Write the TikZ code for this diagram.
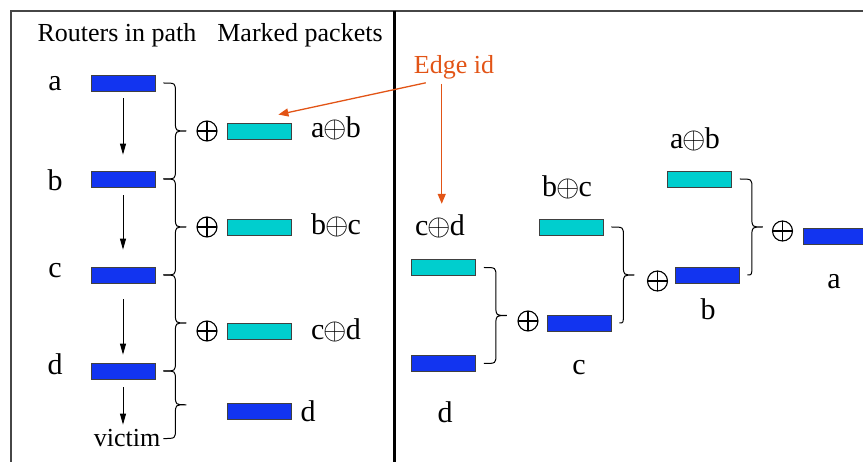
\documentclass[tikz,border=0pt]{standalone}
\usepackage{graphicx}
\usepackage{fontspec}
\setmainfont{Liberation Serif}
\usetikzlibrary{calc,arrows.meta}
\definecolor{pblue}{RGB}{18,52,240}
\definecolor{pcyan}{RGB}{0,206,206}
\definecolor{eorange}{RGB}{226,84,22}
\definecolor{frm}{RGB}{70,70,70}
\newcommand\xo{\scalebox{3}{\fontsize{10}{12}\selectfont$\oplus$}}
\newcommand\xin{\kern-1pt\xo\kern-1pt}
\newcommand\brc[3][8]{%
 \draw[brcst] let \p1=($(#2.east)+(8,0)$), \p2=($(#3.east)+(#1,0)$), \n1={\x1+12pt}, \n2={0.5*\y1+0.5*\y2} in
 (\p1) .. controls (\n1,\y1) .. (\n1,\y1-9pt) -- (\n1,\n2+9pt) .. controls (\n1,\n2) .. (\n1+11pt,\n2)
 .. controls (\n1,\n2) .. (\n1,\n2-9pt) -- (\n1,\y2+9pt) .. controls (\n1,\y2) .. (\p2);}
\tikzset{
 pkt/.style={draw=black!75, line width=0.8pt, minimum width=64pt, minimum height=16pt, inner sep=0pt},
 bpkt/.style={pkt, fill=pblue},
 cpkt/.style={pkt, fill=pcyan},
 hdr/.style={anchor=base, inner sep=0pt, font=\fontsize{26}{30}\selectfont},
 lbl/.style={anchor=base, inner sep=0pt, font=\fontsize{30}{34}\selectfont},
 xorsym/.style={circle, draw=black, line width=1.1pt, minimum size=20pt, inner sep=0pt,
   path picture={\draw[line width=1.1pt] (path picture bounding box.north) -- (path picture bounding box.south)
     (path picture bounding box.west) -- (path picture bounding box.east);}},
 brcst/.style={draw=black, line width=1pt},
 arr/.style={draw=black, line width=0.9pt, -{Triangle[length=11pt,width=6pt]}},
 oarr/.style={draw=eorange, line width=1.3pt, -{Triangle[length=10pt,width=8pt]}},
}
\begin{document}
\begin{tikzpicture}[x=1pt,y=-1pt]
\useasboundingbox (0,0) rectangle (863,462);
% frame
\draw[frm, line width=1.5pt] (11,462) -- (11,11) -- (870,11);
\draw[black, line width=3pt] (394.5,11) -- (394.5,462);
% left panel headers
\node[hdr] (h1) at (117,42) {Routers in path};
\node[hdr] (h2) at (300,42) {Marked packets};
% routers
\node[lbl] (la) at (55,91) {a};
\node[lbl] (lb) at (55,191) {b};
\node[lbl] (lc) at (55,278) {c};
\node[lbl] (ld) at (55,375) {d};
\node[bpkt] (a) at (123,83) {};
\node[bpkt] (b) at (123,179) {};
\node[bpkt] (c) at (123,275) {};
\node[bpkt] (d) at (123,371) {};
\node[hdr] (vic) at (127,447) {victim};
\draw[arr, shorten <=7pt, shorten >=16pt] (a.south) -- (b.north);
\draw[arr, shorten <=8pt, shorten >=17pt] (b.south) -- (c.north);
\draw[arr, shorten <=16pt, shorten >=8pt] (c.south) -- (d.north);
\draw[arr, shorten <=8pt, shorten >=5pt] (d.south) -- (d.south |- vic.north);
% marked packets
\node[xorsym] (x1) at (207,131) {};
\node[xorsym] (x2) at (207,227) {};
\node[xorsym] (x3) at (207,331) {};
\node[cpkt] (ab) at (259,131) {};
\node[cpkt] (bc) at (259,227) {};
\node[cpkt] (cd) at (259,331) {};
\node[bpkt] (dd) at (259,411) {};
\node[lbl] (lab) at (336,138) {a\xin b};
\node[lbl] (lbc) at (336,235) {b\xin c};
\node[lbl] (lcd) at (336,340) {c\xin d};
\node[lbl] (ldd) at (308,422) {d};
\brc{a}{b}
\brc{b}{c}
\brc{c}{d}
\brc[3]{d}{vic}
% edge id
\node[hdr, text=eorange] (edge) at (454,74) {Edge id};
\draw[oarr] ($(edge.south west)+(12,3)$) -- ($(ab.north east)+(-13,-8)$);
\draw[oarr] ($(edge.south west)+(28,4)$) -- ($(edge.south west)+(28,124)$);
% right panel
\node[lbl] (rlcd) at (440,236) {c\xin d};
\node[cpkt] (rcd) at (443.5,267.5) {};
\node[bpkt] (rd) at (443.5,363.5) {};
\node[lbl] (rld) at (445,423) {d};
\node[xorsym] (rx1) at (528,321) {};
\node[bpkt] (rc) at (579,323) {};
\node[lbl] (rlc) at (579,375) {c};
\node[lbl] (rlbc) at (567,197) {b\xin c};
\node[cpkt] (rbc) at (571,227) {};
\node[xorsym] (rx2) at (657.5,281) {};
\node[bpkt] (rb) at (707,275) {};
\node[lbl] (rlb) at (708,320) {b};
\node[lbl] (rlab) at (695,149) {a\xin b};
\node[cpkt] (rab) at (699.5,179) {};
\node[xorsym] (rx3) at (782.5,231) {};
\node[bpkt] (ra) at (835,236) {};
\node[lbl] (rla) at (834,289) {a};
\brc{rcd}{rd}
\brc{rbc}{rc}
\brc{rab}{rb}
\end{tikzpicture}
\end{document}
